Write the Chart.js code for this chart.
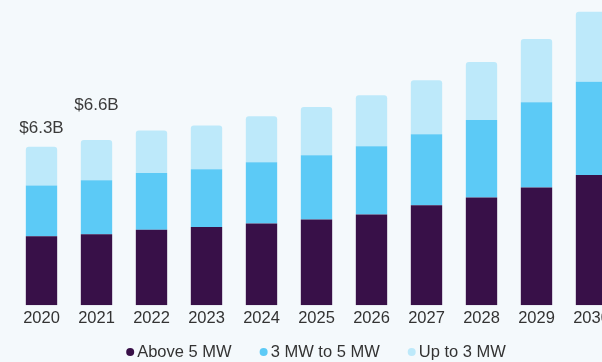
<!DOCTYPE html>
<html>
<head>
<meta charset="utf-8">
<script src="https://cdn.jsdelivr.net/npm/chart.js@4/dist/chart.umd.min.js"></script>
<style>
    html, body { margin: 0; padding: 0; background: #f4f9fc; overflow: hidden; }
    #wrap { position: absolute; left: 0; top: 0; width: 632px; height: 362px; }
</style>
</head>
<body>
<div id="wrap"><canvas id="chart" width="632" height="362"></canvas></div>
<script>
// Chart data (USD billion)
const years = ['2020', '2021', '2022', '2023', '2024', '2025', '2026', '2027', '2028', '2029', '2030'];
const above5MW = [2.74, 2.82, 3.00, 3.11, 3.25, 3.41, 3.61, 3.98, 4.29, 4.69, 5.18];
const mw3to5 = [2.03, 2.15, 2.26, 2.30, 2.44, 2.56, 2.72, 2.83, 3.08, 3.39, 3.72];
const upTo3MW = [1.54, 1.61, 1.69, 1.74, 1.83, 1.92, 2.03, 2.15, 2.31, 2.52, 2.78];
const totalLabels = ['$6.3B', '$6.6B'];

const FONT = '"Liberation Sans", Arial, sans-serif';

// Draws the market size labels above the first bars
const totalLabelPlugin = {
    id: 'totalLabels',
    afterDatasetsDraw(chart, args, opts) {
        const ctx = chart.ctx;
        const topMeta = chart.getDatasetMeta(chart.data.datasets.length - 1);
        ctx.save();
        ctx.font = '17px ' + FONT;
        ctx.fillStyle = '#3b3b3b';
        ctx.textAlign = 'center';
        ctx.textBaseline = 'alphabetic';
        totalLabels.forEach((text, i) => {
            const bar = topMeta.data[i];
            if (!bar) return;
            ctx.fillText(text, bar.x, bar.y - opts.lift[i]);
        });
        ctx.restore();
    }
};

// Legend with small dots, centred under the chart
const dotLegendPlugin = {
    id: 'dotLegend',
    afterDraw(chart, args, opts) {
        const ctx = chart.ctx;
        const sets = chart.data.datasets;
        ctx.save();
        ctx.font = opts.size + 'px ' + FONT;
        ctx.textBaseline = 'middle';
        ctx.textAlign = 'left';
        const widths = sets.map(ds => opts.radius * 2 + opts.textGap + ctx.measureText(ds.label).width);
        const total = widths.reduce((a, b) => a + b, 0) + opts.itemGap * (sets.length - 1);
        let x = chart.width / 2 - total / 2;
        const y = chart.height - opts.bottom;
        sets.forEach((ds, i) => {
            ctx.fillStyle = ds.backgroundColor;
            ctx.beginPath();
            ctx.arc(x + opts.radius, y, opts.radius, 0, Math.PI * 2);
            ctx.fill();
            ctx.fillStyle = '#333';
            ctx.fillText(ds.label, x + opts.radius * 2 + opts.textGap, y);
            x += widths[i] + opts.itemGap;
        });
        ctx.restore();
    }
};

const ctx = document.getElementById('chart').getContext('2d');
new Chart(ctx, {
    type: 'bar',
    data: {
        labels: years,
        datasets: [
            { label: 'Above 5 MW', data: above5MW, backgroundColor: '#381048' },
            { label: '3 MW to 5 MW', data: mw3to5, backgroundColor: '#5ccaf6' },
            { label: 'Up to 3 MW', data: upTo3MW, backgroundColor: '#bde9fa', borderRadius: 3 }
        ]
    },
    options: {
        responsive: false,
        animation: false,
        devicePixelRatio: 1,
        layout: {
            padding: { left: 14, right: 13, top: 0, bottom: 31 }
        },
        datasets: {
            bar: { barPercentage: 0.57, categoryPercentage: 1 }
        },
        plugins: {
            legend: { display: false },
            tooltip: { enabled: false },
            totalLabels: { lift: [14, 30] },
            dotLegend: { size: 16.5, radius: 4, textGap: 3, itemGap: 28, bottom: 10 }
        },
        scales: {
            x: {
                stacked: true,
                grid: { display: false, drawTicks: false },
                border: { display: false },
                ticks: {
                    color: '#333',
                    padding: 3,
                    maxRotation: 0,
                    font: { family: FONT, size: 16.5 }
                }
            },
            y: {
                stacked: true,
                display: false,
                min: 0,
                max: 12.15
            }
        }
    },
    plugins: [totalLabelPlugin, dotLegendPlugin]
});
</script>
</body>
</html>
